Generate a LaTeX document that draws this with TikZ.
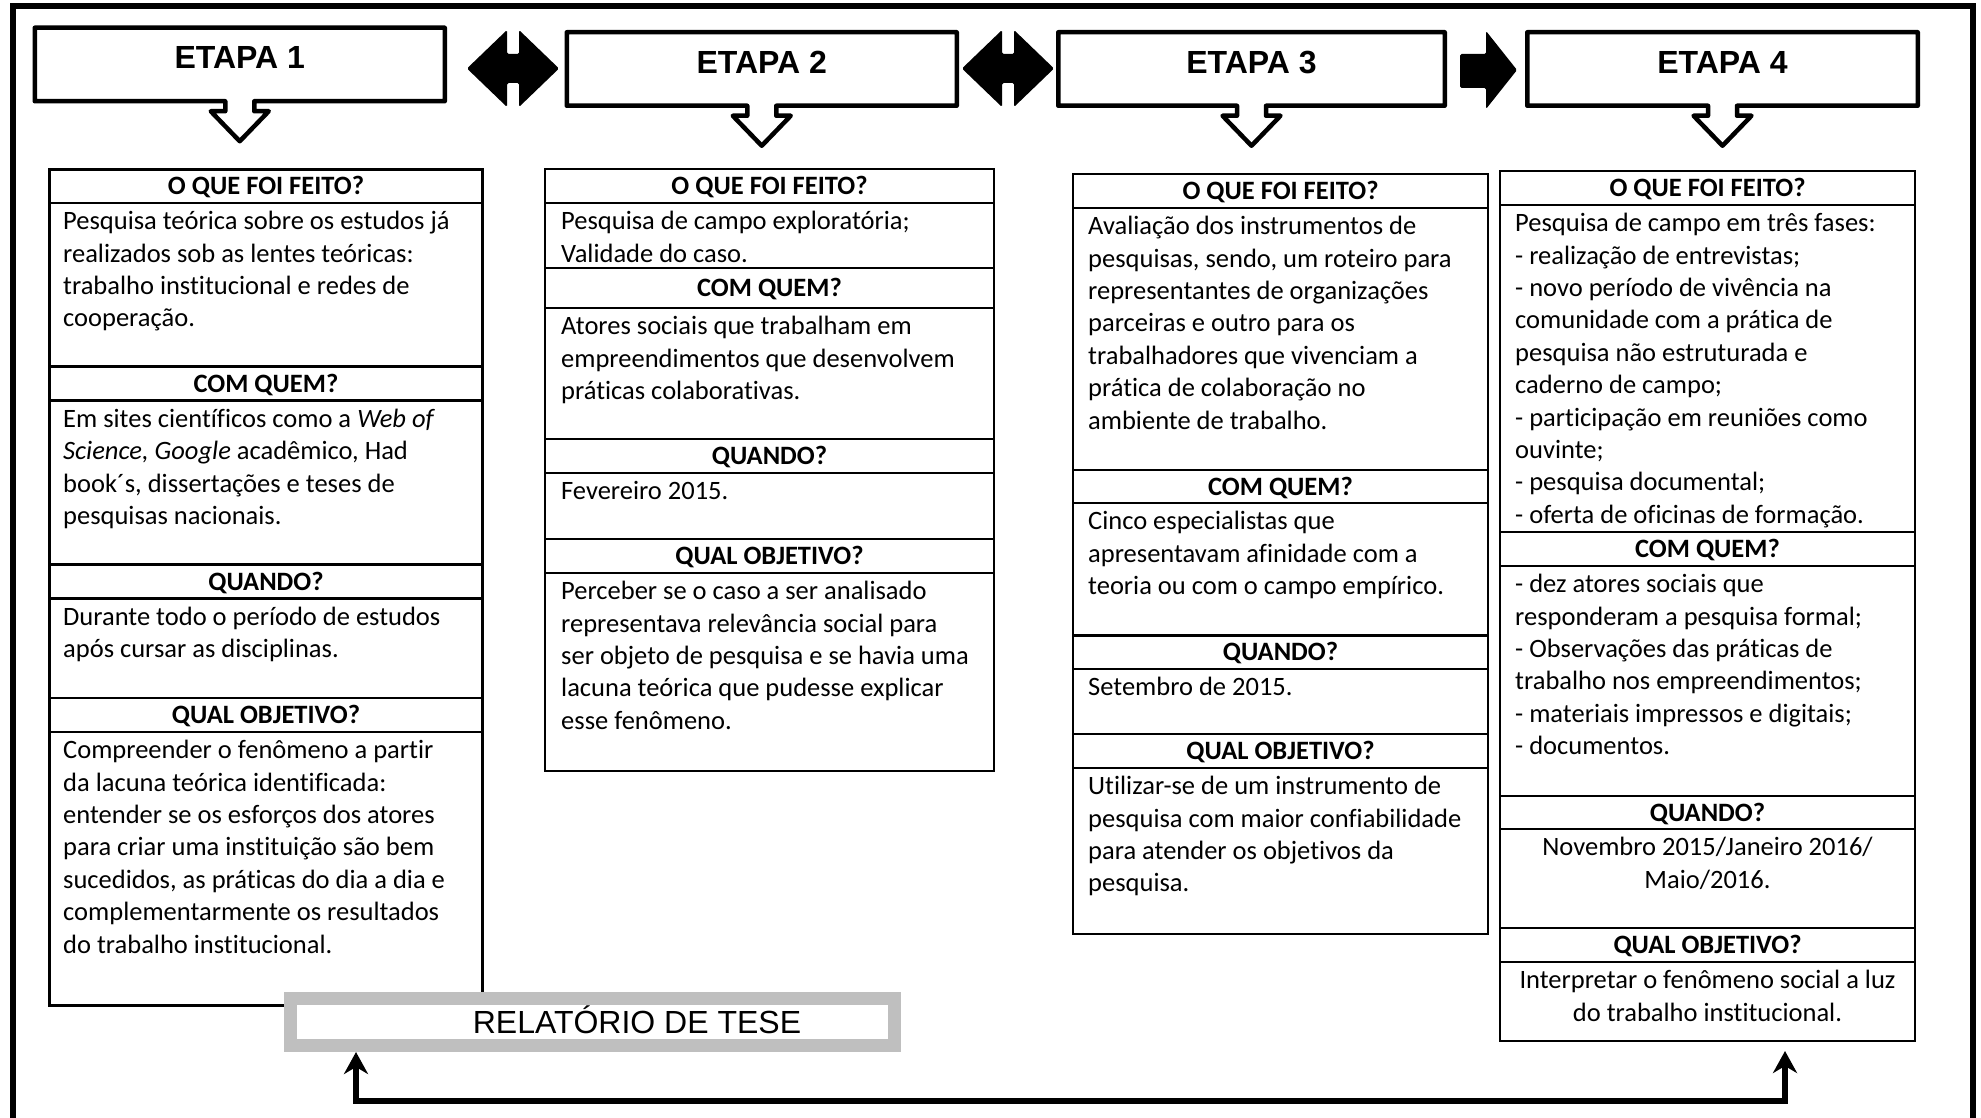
\documentclass[tikz,border=0pt]{standalone}
\usepackage{fontspec}
\setmainfont{Carlito}[Ligatures=NoCommon]
\newfontfamily\arialfam{Liberation Sans}
\usetikzlibrary{arrows.meta,calc}

% body text: 26.5pt Calibri-metric font, 32.4pt line pitch
\newcommand\cbody{\fontsize{26.5pt}{32.4pt}\selectfont}
\newcommand\celltext[1]{\parbox[t]{440pt}{\cbody\rule{0pt}{26.5pt}#1}}
\newcommand\celltextc[1]{\parbox[t]{415pt}{\centering\cbody\rule{0pt}{26.5pt}#1}}
\definecolor{relgray}{RGB}{191,191,191}

\tikzset{
  outerframe/.style={line width=6pt},
  tbl/.style={draw, line width=2.5pt, fill=white, inner sep=0pt, outer sep=0pt},
  rowline/.style={line width=2.5pt},
  hdr/.style={font=\cbody\bfseries, inner sep=0pt, text height=17pt, text depth=0pt},
  bodytxt/.style={anchor=north west, inner sep=0pt},
  bodyc/.style={anchor=north, inner sep=0pt},
  etapa/.style={font=\arialfam\bfseries\fontsize{32pt}{38pt}\selectfont,
    inner sep=0pt, outer sep=0pt, text height=23pt, text depth=14pt,
    minimum height=73.5pt},
  callout/.style={line width=4.5pt, line join=round},
  flow/.style={fill=black, rounded corners=1.5pt},
  relbox/.style={draw=relgray, line width=13pt, fill=white,
    minimum width=604pt, minimum height=47pt, inner sep=0pt, outer sep=0pt,
    font=\arialfam\fontsize{32pt}{38pt}\selectfont, text height=23pt, text depth=0pt},
  link/.style={line width=6pt,
    {Stealth[length=22pt,width=24pt,inset=7pt]}-{Stealth[length=22pt,width=24pt,inset=7pt]}},
  dblarrow/.pic={
    \fill[flow] (-46,0) -- (-6,-38.5) -- (-6,-14.5) -- (6,-14.5) -- (6,-38.5)
      -- (46,0) -- (6,38.5) -- (6,14.5) -- (-6,14.5) -- (-6,38.5) -- cycle;
  },
}

\begin{document}
\begin{tikzpicture}[x=1pt,y=-1pt]
\useasboundingbox (0,0) rectangle (1981,1118);
\clip (0,0) rectangle (1981,1118);

% outer frame (bottom edge runs off the page)
\draw[outerframe] (12.5,6.5) rectangle (1972.5,1140);

% stage headers with their downward pointers
\foreach \n/\cx/\cy/\w in {1/239.75/64.5/410, 2/761.75/69/390, 3/1251.5/69/386.5, 4/1722.5/69/390.5} {
  \node[etapa, minimum width=\w pt] (e\n) at (\cx,\cy) {ETAPA \n};
  \draw[callout] (e\n.north west) -- (e\n.north east) -- (e\n.south east)
    -- ($(e\n.south)+(14.5,0)$) -- ($(e\n.south)+(14.5,10)$) -- ($(e\n.south)+(29,10)$)
    -- ($(e\n.south)+(0,40)$) -- ($(e\n.south)+(-29,10)$) -- ($(e\n.south)+(-14.5,10)$)
    -- ($(e\n.south)+(-14.5,0)$) -- (e\n.south west) -- cycle;
}

% block arrows between the stages
\pic at (513,68.5) {dblarrow};
\pic at (1008,68.5) {dblarrow};
\fill[flow] (1460,54) -- (1486,54) -- (1486,31) -- (1517,70) -- (1486,109)
  -- (1486,88) -- (1460,88) -- cycle;

% tables
\node[tbl, minimum width=433pt, minimum height=836pt] (t1) at (266,587.5) {};
\node[tbl, minimum width=449pt, minimum height=602pt] (t2) at (769.5,470) {};
\node[tbl, minimum width=415pt, minimum height=760pt] (t3) at (1280.5,554) {};
\node[tbl, minimum width=415pt, minimum height=870pt] (t4) at (1707.5,606) {};

\foreach \t/\ys in {t1/{203,366.5,400.5,564.5,598.5,698,732},
                    t2/{203,268,308,439,473,539,573},
                    t3/{208,470,503,635.5,669,734,768},
                    t4/{205,532,566,796,829,928,962}} {
  \foreach \y in \ys {
    \draw[rowline] (\t.west |- 0,\y) -- (\t.east |- 0,\y);
  }
}

% ---- stage 1
\node[hdr] (h1a) at (266,186.25) {O QUE FOI FEITO?};
\node[hdr] (h1b) at (266,383.5) {COM QUEM?};
\node[hdr] (h1c) at (266,581.5) {QUANDO?};
\node[hdr] (h1d) at (266,715) {QUAL OBJETIVO?};
\node[bodytxt] (b1a) at (63,203) {\celltext{Pesquisa teórica sobre os estudos já\\realizados sob as lentes teóricas:\\trabalho institucional e redes de\\cooperação.}};
\node[bodytxt] (b1b) at (63,400.5) {\celltext{Em sites científicos como a \textit{Web of}\\\textit{Science, Google} acadêmico, Had\\book´s, dissertações e teses de\\pesquisas nacionais.}};
\node[bodytxt] (b1c) at (63,598.5) {\celltext{Durante todo o período de estudos\\após cursar as disciplinas.}};
\node[bodytxt] (b1d) at (63,732) {\celltext{Compreender o fenômeno a partir\\da lacuna teórica identificada:\\entender se os esforços dos atores\\para criar uma instituição são bem\\sucedidos, as práticas do dia a dia e\\complementarmente os resultados\\do trabalho institucional.}};

% ---- stage 2
\node[hdr] (h2a) at (769.5,186) {O QUE FOI FEITO?};
\node[hdr] (h2b) at (769.5,288) {COM QUEM?};
\node[hdr] (h2c) at (769.5,456) {QUANDO?};
\node[hdr] (h2d) at (769.5,556) {QUAL OBJETIVO?};
\node[bodytxt] (b2a) at (561,203) {\celltext{Pesquisa de campo exploratória;\\Validade do caso.}};
\node[bodytxt] (b2b) at (561,308) {\celltext{Atores sociais que trabalham em\\empreendimentos que desenvolvem\\práticas colaborativas.}};
\node[bodytxt] (b2c) at (561,473) {\celltext{Fevereiro 2015.}};
\node[bodytxt] (b2d) at (561,573) {\celltext{Perceber se o caso a ser analisado\\representava relevância social para\\ser objeto de pesquisa e se havia uma\\lacuna teórica que pudesse explicar\\esse fenômeno.}};

% ---- stage 3
\node[hdr] (h3a) at (1280.5,191) {O QUE FOI FEITO?};
\node[hdr] (h3b) at (1280.5,486.5) {COM QUEM?};
\node[hdr] (h3c) at (1280.5,652.25) {QUANDO?};
\node[hdr] (h3d) at (1280.5,751) {QUAL OBJETIVO?};
\node[bodytxt] (b3a) at (1088,208) {\celltext{Avaliação dos instrumentos de\\pesquisas, sendo, um roteiro para\\representantes de organizações\\parceiras e outro para os\\trabalhadores que vivenciam a\\prática de colaboração no\\ambiente de trabalho.}};
\node[bodytxt] (b3b) at (1088,503) {\celltext{Cinco especialistas que\\apresentavam afinidade com a\\teoria ou com o campo empírico.}};
\node[bodytxt] (b3c) at (1088,669) {\celltext{Setembro de 2015.}};
\node[bodytxt] (b3d) at (1088,768) {\celltext{Utilizar-se de um instrumento de\\pesquisa com maior confiabilidade\\para atender os objetivos da\\pesquisa.}};

% ---- stage 4
\node[hdr] (h4a) at (1707.5,188) {O QUE FOI FEITO?};
\node[hdr] (h4b) at (1707.5,549) {COM QUEM?};
\node[hdr] (h4c) at (1707.5,812.5) {QUANDO?};
\node[hdr] (h4d) at (1707.5,945) {QUAL OBJETIVO?};
\node[bodytxt] (b4a) at (1515,205) {\celltext{Pesquisa de campo em três fases:\\- realização de entrevistas;\\- novo período de vivência na\\comunidade com a prática de\\pesquisa não estruturada e\\caderno de campo;\\- participação em reuniões como\\ouvinte;\\- pesquisa documental;\\- oferta de oficinas de formação.}};
\node[bodytxt] (b4b) at (1515,566) {\celltext{- dez atores sociais que\\responderam a pesquisa formal;\\- Observações das práticas de\\trabalho nos empreendimentos;\\- materiais impressos e digitais;\\- documentos.}};
\node[bodyc] (b4c) at (1707.5,829) {\celltextc{Novembro 2015/Janeiro 2016/\\Maio/2016.}};
\node[bodyc] (b4d) at (1707.5,962) {\celltextc{Interpretar o fenômeno social a luz\\do trabalho institucional.}};

% thesis report box
\node[relbox] (rel) at (592.5,1022) {\hspace*{89pt}RELATÓRIO DE TESE};

% feedback link between stage 4 and the report
\coordinate (relend) at ($(rel.south west)+(65.5,6.5)$);
\coordinate (t4end) at ($(t4.south west)+(285,10)$);
\coordinate (bus) at (0,1101);
\draw[link] (relend) -- (relend |- bus) -- (t4end |- bus) -- (t4end);
\end{tikzpicture}
\end{document}
